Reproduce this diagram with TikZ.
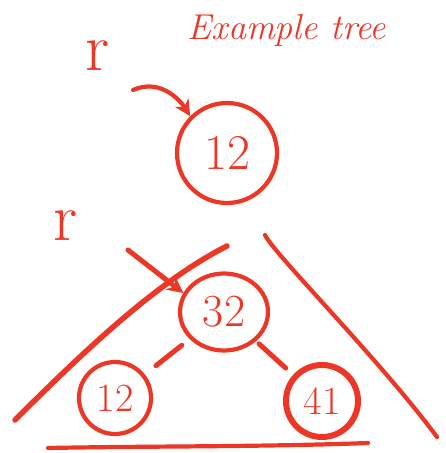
\documentclass[tikz,border=0pt]{standalone}
\usepackage{tikz}
\usetikzlibrary{arrows.meta, shapes.geometric, positioning}
\definecolor{ink}{HTML}{EC3727}
\begin{document}
\begin{tikzpicture}[x=1pt, y=-1pt, line width=4.2pt, line cap=round,
    every node/.style={text=ink, inner sep=0pt},
    key/.style={draw=ink, circle, minimum size=#1},
    big/.style={font=\fontsize{#1}{#1}\selectfont},
    pointer/.style={draw=ink, -{Stealth[length=16pt, width=16pt]}},
    link/.style={draw=ink, line width=5pt},
    rim/.style={draw=ink}]
  \useasboundingbox (0,0) rectangle (445,453);
  \node[font=\itshape\fontsize{36}{36}\selectfont] (title) at (287,30) {Example tree};
  \node[big=68] (r1) at (98,56) {r};
  \node[big=68] (r2) at (66,226) {r};
  \node[key=100, big=50] (root) at (227,153) {12};
  \node[key=80, ellipse, minimum width=88pt, minimum height=77pt, big=46] (n32) at (224,312) {32};
  \node[key=72, big=40] (n12) at (115,398) {12};
  \node[key=72, big=40, line width=6pt] (n41) at (322,401) {41};
  \coordinate (tail1) at (133,90);
  \coordinate (tail2) at (128,250);
  \draw[pointer] (tail1) .. controls (160,78) and (180,100) .. (root.north west);
  \draw[pointer, line width=5pt] (tail2) -- (n32.155);
  \draw[link, shorten <=10pt, shorten >=14pt] (n32) -- (n12);
  \draw[link, shorten <=4pt, shorten >=10pt] (n32) -- (n41);
  \coordinate (leftfoot) at (15,420);
  \coordinate (lefttop) at (227,246);
  \coordinate (righttop) at (265,235);
  \coordinate (rightfoot) at (437,437);
  \coordinate (base1) at (48,448);
  \coordinate (base2) at (368,443);
  \draw[rim, line width=5.5pt] (leftfoot) .. controls (90,345) and (160,280) .. (lefttop);
  \draw[rim] (righttop) .. controls (275,255) and (380,360) .. (rightfoot);
  \draw[rim] (base1) .. controls (150,446) and (260,447) .. (base2);
\end{tikzpicture}
\end{document}
